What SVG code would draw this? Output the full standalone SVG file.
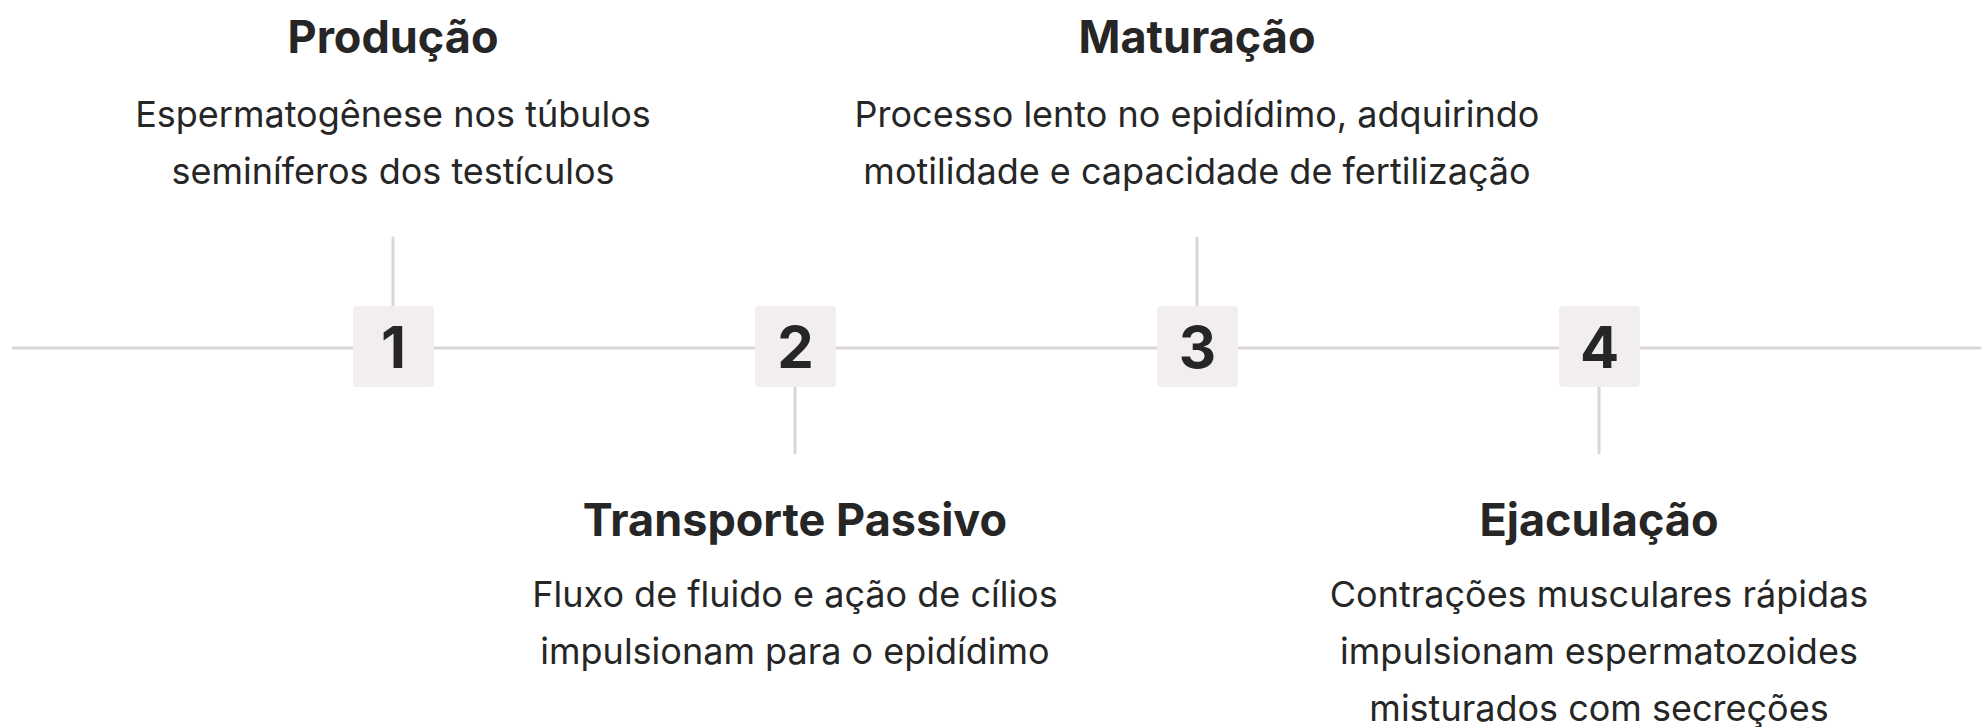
<svg xmlns="http://www.w3.org/2000/svg" width="1984" height="727" viewBox="0 0 1984 727">
<style>
.ln{stroke:#d9d6d5;stroke-width:3;stroke-linecap:round;fill:none}
.box{fill:#f1eeed}
.num{font-family:Inter,"Liberation Sans",sans-serif;font-weight:700;font-size:58px;fill:#262626;text-anchor:middle}
.t{font-family:Inter,"Liberation Sans",sans-serif;font-weight:700;font-size:45px;fill:#262626;text-anchor:middle}
.d{font-family:Inter,"Liberation Sans",sans-serif;font-weight:400;font-size:36px;fill:#262626;text-anchor:middle}
</style>
<rect width="1984" height="727" fill="#ffffff"/>
<g id="connectors">
<line class="ln" x1="13" y1="348" x2="1980" y2="348"/>
<line class="ln" x1="393" y1="238" x2="393" y2="306"/>
<line class="ln" x1="795" y1="387" x2="795" y2="453"/>
<line class="ln" x1="1197" y1="238" x2="1197" y2="306"/>
<line class="ln" x1="1599" y1="387" x2="1599" y2="453"/>
</g>
<g id="step1">
<rect class="box" x="353" y="306" width="81" height="81" rx="4"/>
<text class="num" x="393.5" y="368">1</text>
<text class="t" x="393" y="53">Produção</text>
<text class="d" x="393" y="127">Espermatogênese nos túbulos</text>
<text class="d" x="393" y="184">seminíferos dos testículos</text>
</g>
<g id="step2">
<rect class="box" x="755" y="306" width="81" height="81" rx="4"/>
<text class="num" x="795.5" y="368">2</text>
<text class="t" x="795" y="536">Transporte Passivo</text>
<text class="d" x="795" y="607">Fluxo de fluido e ação de cílios</text>
<text class="d" x="795" y="664">impulsionam para o epidídimo</text>
</g>
<g id="step3">
<rect class="box" x="1157" y="306" width="81" height="81" rx="4"/>
<text class="num" x="1197.5" y="368">3</text>
<text class="t" x="1197" y="53">Maturação</text>
<text class="d" x="1197" y="127">Processo lento no epidídimo, adquirindo</text>
<text class="d" x="1197" y="184">motilidade e capacidade de fertilização</text>
</g>
<g id="step4">
<rect class="box" x="1559" y="306" width="81" height="81" rx="4"/>
<text class="num" x="1599.5" y="368">4</text>
<text class="t" x="1599" y="536">Ejaculação</text>
<text class="d" x="1599" y="607">Contrações musculares rápidas</text>
<text class="d" x="1599" y="664">impulsionam espermatozoides</text>
<text class="d" x="1599" y="721">misturados com secreções</text>
</g>
</svg>
